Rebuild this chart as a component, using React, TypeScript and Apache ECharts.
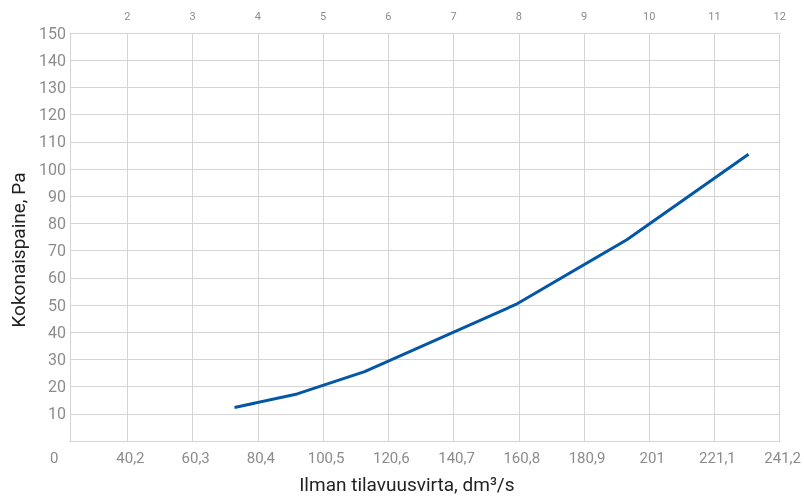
import React, { useEffect, useRef } from "react";
import * as echarts from "echarts";

// Air flow (dm³/s) vs total pressure (Pa)
const flowValues = [73.2, 92.5, 113.3, 159.9, 194.1, 231.6];
const pressureValues = [12.3, 17.3, 25.5, 50.2, 74.0, 105.4];

// Bottom axis ticks (dm³/s), top axis ticks (m/s)
const flowTicks = [40.2, 60.3, 80.4, 100.5, 120.6, 140.7, 160.8, 180.9, 201, 221.1, 241.2];
const velocityTicks = [2, 3, 4, 5, 6, 7, 8, 9, 10, 11, 12];
const flowPerVelocity = 20.1;
const flowMin = 22.5;
const flowMax = 241.2;

const xTitle = "Ilman tilavuusvirta, dm³/s";
const yTitle = "Kokonaispaine, Pa";

export default function App() {
  const ref = useRef<HTMLDivElement>(null);
  useEffect(() => {
    if (!ref.current) return;
    const chart = echarts.init(ref.current, null, { renderer: "svg" });
    const labelColor = "#8c8c8c";
    const gridColor = "#d4d4d4";
    const font = "Roboto";
    const round3 = (v: number) => Math.round(v * 1000) / 1000;
    chart.setOption({
      animation: false,
      grid: { left: 70, right: 19, top: 33, bottom: 56, containLabel: false },
      xAxis: [
        {
          type: "value",
          position: "bottom",
          min: flowMin,
          max: flowMax,
          name: xTitle,
          nameLocation: "middle",
          nameGap: 34,
          nameTextStyle: {
            fontSize: 19,
            color: "#222",
            fontFamily: font,
            padding: [0, 36, 0, 0],
          },
          axisLine: { show: true, lineStyle: { color: gridColor, width: 1 } },
          axisTick: { show: false, customValues: flowTicks },
          splitLine: { show: true, lineStyle: { color: gridColor, width: 1 } },
          axisLabel: {
            customValues: flowTicks,
            color: labelColor,
            fontSize: 15,
            fontFamily: font,
            margin: 9,
            padding: [0, 0, 0, 6],
            showMaxLabel: true,
            formatter: (v: number) => String(Math.round(v * 10) / 10).replace(".", ","),
          },
        },
        {
          type: "value",
          position: "top",
          min: round3(flowMin / flowPerVelocity),
          max: round3(flowMax / flowPerVelocity),
          axisLine: { show: true, lineStyle: { color: gridColor, width: 1 } },
          axisTick: { show: false, customValues: velocityTicks },
          splitLine: { show: false },
          axisLabel: {
            customValues: velocityTicks,
            color: labelColor,
            fontSize: 11,
            fontFamily: font,
            margin: 11,
            showMaxLabel: true,
          },
        },
      ],
      yAxis: {
        type: "value",
        min: 0,
        max: 150,
        interval: 10,
        name: yTitle,
        nameLocation: "middle",
        nameGap: 41,
        nameTextStyle: {
          fontSize: 19,
          color: "#222",
          fontFamily: font,
          padding: [0, 26, 0, 0],
        },
        axisLine: { show: true, lineStyle: { color: gridColor, width: 1 } },
        axisTick: { show: false },
        splitLine: { show: true, lineStyle: { color: gridColor, width: 1 } },
        axisLabel: {
          color: labelColor,
          fontSize: 16,
          fontFamily: font,
          margin: 4,
          formatter: (v: number) => (v === 0 ? "" : String(v)),
        },
      },
      graphic: [
        {
          type: "text",
          left: 50,
          top: 450,
          style: { text: "0", fill: labelColor, fontSize: 15, fontFamily: font },
        },
      ],
      series: [
        {
          type: "line",
          xAxisIndex: 0,
          data: flowValues.map((f, i) => [f, pressureValues[i]]),
          showSymbol: false,
          lineStyle: { color: "#0357a6", width: 3 },
          itemStyle: { color: "#0357a6" },
        },
      ],
    });
    return () => chart.dispose();
  }, []);
  return (
    <div
      ref={ref}
      style={{ position: "fixed", left: 0, top: 0, width: 804, height: 499 }}
    />
  );
}
